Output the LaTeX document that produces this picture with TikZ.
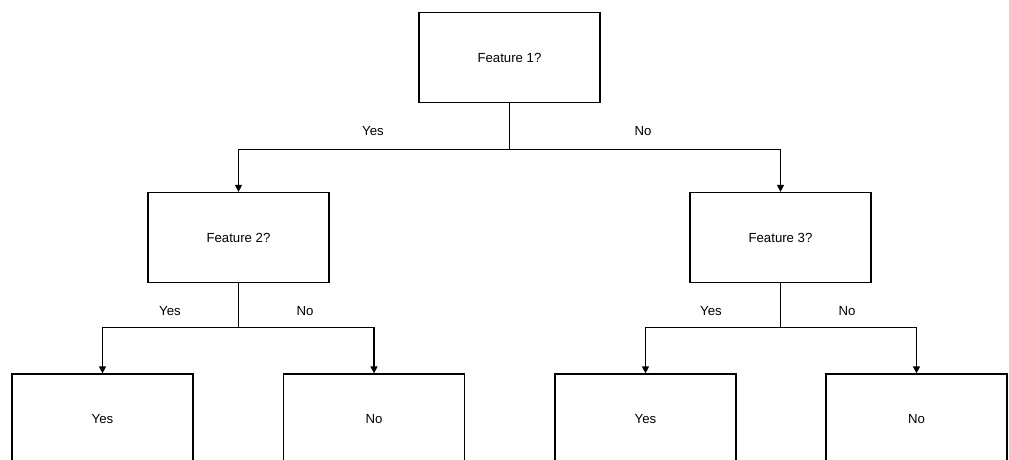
\documentclass[tikz,border=0pt]{standalone}
\usepackage{fontspec}
\setmainfont{Liberation Sans}
\usetikzlibrary{arrows.meta}
\begin{document}
\begin{tikzpicture}[x=1pt,y=-1pt,
  box/.style={draw=black,line width=1.3pt,minimum width=181pt,minimum height=90pt,inner sep=0pt,font=\fontsize{13.2}{15}\selectfont},
  conn/.style={draw=black,line width=1.3pt,-{Triangle[length=7pt,width=7pt]}},
  lbl/.style={font=\fontsize{13.2}{15}\selectfont,inner sep=0pt}]
\useasboundingbox (0,0) rectangle (1009,459);
\fill[white] (0,0) rectangle (1009,459);
\clip (0,0) rectangle (1009,459);
\node[box] (f1) at (509.5,57.5) {Feature 1?};
\node[box] (f2) at (238.5,237.5) {Feature 2?};
\node[box] (f3) at (780.5,237.5) {Feature 3?};
\node[box] (l1) at (102.5,419) {Yes};
\node[box] (l2) at (374,419) {No};
\node[box] (l3) at (645.5,419) {Yes};
\node[box] (l4) at (916.5,419) {No};
\path[conn] (f1.south) -- ++(0,46) -| (f2.north);
\path[conn] (f1.south) -- ++(0,46) -| (f3.north);
\path[conn] (f2.south) -- ++(0,44) -| (l1.north);
\path[conn] (f2.south) -- ++(0,44) -| (l2.north);
\path[conn] (f3.south) -- ++(0,44) -| (l3.north);
\path[conn] (f3.south) -- ++(0,44) -| (l4.north);
\node[lbl] (y1) at (373,131) {Yes};
\node[lbl] (n1) at (643,131) {No};
\node[lbl] (y2) at (170,311) {Yes};
\node[lbl] (n2) at (305,311) {No};
\node[lbl] (y3) at (711,311) {Yes};
\node[lbl] (n3) at (847,311) {No};
\end{tikzpicture}
\end{document}
